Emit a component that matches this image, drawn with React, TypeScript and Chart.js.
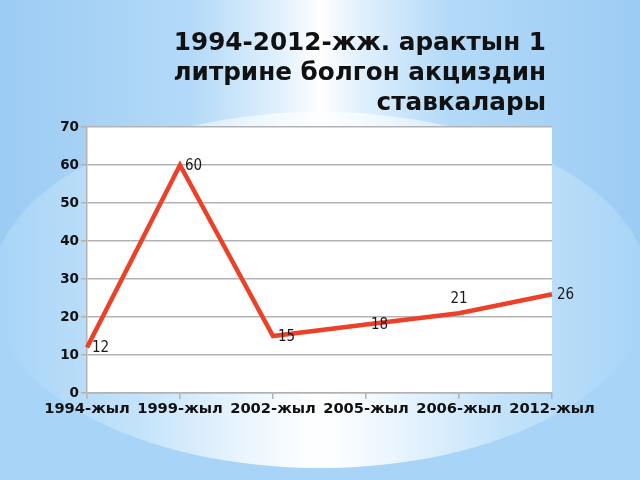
import { useEffect, useRef } from "react"
import { Chart, registerables } from "chart.js"

Chart.register(...registerables)

// Chart data
const titleLines = ["1994-2012-жж. арактын 1", "литрине болгон акциздин", "ставкалары"]
const years = ["1994-жыл", "1999-жыл", "2002-жыл", "2005-жыл", "2006-жыл", "2012-жыл"]
const rates = [12, 60, 15, 18, 21, 26]
const yTicks = [0, 10, 20, 30, 40, 50, 60, 70]

const FONT = "'DejaVu Sans', sans-serif"
const NARROW = "'DejaVu Sans Condensed', 'DejaVu Sans', sans-serif"

// Slide-like background, white plot area and the right-aligned title
const backdrop = {
  id: "backdrop",
  beforeDraw(chart: Chart) {
    const { ctx, width, height, chartArea } = chart
    ctx.save()
    ctx.fillStyle = "#a8d4f7"
    ctx.fillRect(0, 0, width, height)

    const top = ctx.createLinearGradient(0, 0, width, 0)
    top.addColorStop(0, "#9ccbf3")
    top.addColorStop(0.3, "#b3daf8")
    top.addColorStop(0.44, "#e2f1fd")
    top.addColorStop(0.5, "#ffffff")
    top.addColorStop(0.56, "#e2f1fd")
    top.addColorStop(0.7, "#b3daf8")
    top.addColorStop(1, "#9ccbf3")
    ctx.fillStyle = top
    ctx.fillRect(0, 0, width, 263)

    ctx.beginPath()
    ctx.ellipse(width / 2, 290, 330, 178, 0, 0, Math.PI * 2)
    ctx.clip()
    const low = ctx.createLinearGradient(0, 0, width, 0)
    low.addColorStop(0, "#a8d4f7")
    low.addColorStop(0.22, "#c4e3fa")
    low.addColorStop(0.4, "#eef7fe")
    low.addColorStop(0.5, "#ffffff")
    low.addColorStop(0.6, "#eef7fe")
    low.addColorStop(0.78, "#c4e3fa")
    low.addColorStop(1, "#a8d4f7")
    ctx.fillStyle = low
    ctx.fillRect(0, 0, width, height)
    ctx.restore()

    ctx.save()
    ctx.fillStyle = "#ffffff"
    ctx.fillRect(chartArea.left, chartArea.top, chartArea.right - chartArea.left, chartArea.bottom - chartArea.top)
    ctx.restore()
  },
  afterDraw(chart: Chart) {
    const { ctx } = chart
    ctx.save()
    ctx.font = `bold 24.7px ${FONT}`
    ctx.fillStyle = "#111111"
    ctx.textAlign = "right"
    ctx.textBaseline = "middle"
    titleLines.forEach((line, i) => {
      ctx.fillText(line, 546, 44 + i * 30)
    })
    ctx.restore()
  },
}

// Value labels next to each point
const valueLabels = {
  id: "valueLabels",
  afterDatasetsDraw(chart: Chart) {
    const { ctx } = chart
    const meta = chart.getDatasetMeta(0)
    ctx.save()
    ctx.font = `15px ${NARROW}`
    ctx.fillStyle = "#1a1a1a"
    ctx.textBaseline = "middle"
    meta.data.forEach((pt, i) => {
      const v = rates[i]
      if (i === 4) {
        ctx.textAlign = "center"
        ctx.fillText(String(v), pt.x, pt.y - 14)
      } else {
        ctx.textAlign = "left"
        ctx.fillText(String(v), pt.x + 5, pt.y + 1)
      }
    })
    ctx.restore()
  },
}

export default function App() {
  const chartRef = useRef<HTMLCanvasElement>(null)
  const chartInstance = useRef<Chart | null>(null)

  useEffect(() => {
    if (!chartRef.current) return
    if (chartInstance.current) chartInstance.current.destroy()

    const ctx = chartRef.current.getContext("2d")
    if (!ctx) return

    chartInstance.current = new Chart(ctx, {
      type: "line",
      data: {
        labels: years,
        datasets: [
          {
            label: "Акциз",
            data: rates,
            borderColor: "#ec4128",
            borderWidth: 4.5,
            borderJoinStyle: "miter",
            pointRadius: 0,
            tension: 0,
            fill: false,
          },
        ],
      },
      options: {
        responsive: false,
        animation: false,
        layout: {
          padding: { top: 127, right: 88, bottom: 47, left: 0 },
        },
        plugins: {
          legend: { display: false },
          title: { display: false },
          tooltip: { enabled: false },
        },
        scales: {
          x: {
            offset: false,
            grid: {
              drawOnChartArea: false,
              drawTicks: true,
              tickLength: 6,
              color: "#b3b3b3",
              lineWidth: 1.5,
            },
            border: { color: "#b3b3b3", width: 1.5 },
            ticks: {
              color: "#111111",
              font: { family: FONT, size: 14.7, weight: "bold" },
              maxRotation: 0,
              autoSkip: false,
              padding: 1,
            },
            afterFit: (scale) => {
              scale.height = 40
            },
          },
          y: {
            min: 0,
            max: 70,
            afterBuildTicks: (scale) => {
              scale.ticks = yTicks.map((v) => ({ value: v }))
            },
            grid: {
              color: "#b3b3b3",
              lineWidth: 1.5,
              tickLength: 6,
            },
            border: { color: "#b3b3b3", width: 1.5 },
            ticks: {
              color: "#111111",
              font: { family: FONT, size: 13.5, weight: "bold" },
              padding: 2,
            },
            afterFit: (scale) => {
              scale.width = 87
            },
          },
        },
      },
      plugins: [backdrop, valueLabels],
    })

    return () => {
      if (chartInstance.current) {
        chartInstance.current.destroy()
        chartInstance.current = null
      }
    }
  }, [])

  return (
    <div style={{ position: "fixed", left: 0, top: 0, width: 640, height: 480 }}>
      <canvas ref={chartRef} width={640} height={480} style={{ width: 640, height: 480 }} />
    </div>
  )
}
